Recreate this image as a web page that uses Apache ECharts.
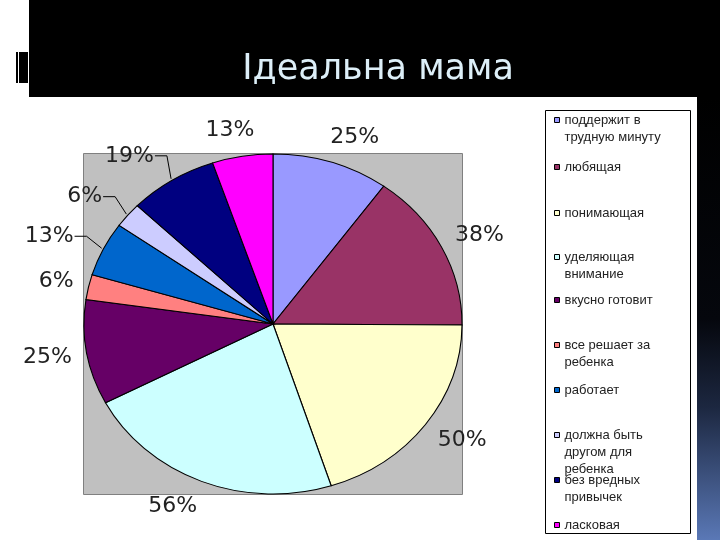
<!DOCTYPE html>
<html><head><meta charset="utf-8">
<script src="https://cdn.jsdelivr.net/npm/echarts@6/dist/echarts.min.js"></script>
<style>html,body{margin:0;padding:0;background:#fff}#c{width:720px;height:540px}</style>
</head><body><div id="c"></div><script>
// ---- data ----
const chartTitle = 'Ідеальна мама';
const categories = ['поддержит в трудную минуту','любящая','понимающая','уделяющая внимание','вкусно готовит','все решает за ребенка','работает','должна быть другом для ребенка','без вредных привычек','ласковая'];
const legendText = ['поддержит в\nтрудную минуту','любящая','понимающая','уделяющая\nвнимание','вкусно готовит','все решает за\nребенка','работает','должна быть\nдругом для\nребенка','без вредных\nпривычек','ласковая'];
const values = [25, 38, 50, 56, 25, 6, 13, 6, 19, 13];
const colors = ['#9999FF','#993366','#FFFFCC','#CCFFFF','#660066','#FF8080','#0066CC','#CCCCFF','#000080','#FF00FF'];
const withLeader = [false,false,false,false,false,false,true,true,true,false];

// ---- layout ----
const CX = 273, CY = 324, RX = 189, RY = 170;
const LABEL_FONT = '22px "DejaVu Sans"';
const total = values.reduce((a, b) => a + b, 0);
const starts = []; { let acc = 0; values.forEach(v => { starts.push(acc); acc += v; }); }
const mctx = document.createElement('canvas').getContext('2d'); mctx.font = LABEL_FONT;
const clamp1 = x => Math.max(-1, Math.min(1, x));

function renderSlice(i) {
  return function (params, api) {
    const v = api.value(0);
    const a0 = starts[i] / total * 2 * Math.PI;
    const a1 = (starts[i] + v) / total * 2 * Math.PI;
    const mid = (a0 + a1) / 2, s = Math.sin(mid), c = Math.cos(mid);
    const children = [{
      type: 'sector', x: CX, y: CY, scaleX: RX / RY,
      shape: { cx: 0, cy: 0, r: RY, r0: 0, startAngle: a0 - Math.PI / 2, endAngle: a1 - Math.PI / 2, clockwise: true },
      style: { fill: colors[i], stroke: '#000', lineWidth: 1, strokeNoScale: true }
    }];
    const txt = v + '%';
    if (withLeader[i]) {
      const ax = CX + RX * 1.17 * s, ay = CY - RY * 1.17 * c;
      const ex = CX + RX * 1.01 * s, ey = CY - RY * 1.01 * c;
      children.push({ type: 'polyline', shape: { points: [[ax, ay], [ax + 12, ay], [ex, ey]] }, style: { stroke: '#000', fill: null, lineWidth: 1 } });
      children.push({ type: 'text', x: ax - 1, y: ay, style: { text: txt, font: LABEL_FONT, fill: '#222', align: 'right', verticalAlign: 'middle' } });
    } else {
      const w = mctx.measureText(txt).width, h = 26;
      const px = CX + RX * 1.08 * s, py = CY - RY * 1.08 * c;
      children.push({ type: 'text', x: px + w / 2 * clamp1(2.5 * s), y: py - h / 2 * c, style: { text: txt, font: LABEL_FONT, fill: '#222', align: 'center', verticalAlign: 'middle' } });
    }
    return { type: 'group', children };
  };
}

const legendFirstLineY = [120, 167, 213, 257, 300, 345, 390, 435, 480, 525];
const LH = 17;
const legends = categories.map((name, i) => {
  const L = legendText[i].split('\n').length;
  // leading blank lines keep the marker level with the first text line
  const shown = ' \n'.repeat(L - 1) + legendText[i];
  return {
    data: [name], left: 554, top: legendFirstLineY[i] - LH * (2 * L - 1) / 2,
    padding: 0, itemGap: 0, icon: 'rect', itemWidth: 5, itemHeight: 5, selectedMode: false,
    itemStyle: { borderColor: '#000', borderWidth: 1 },
    formatter: () => shown,
    textStyle: { fontSize: 13, fontFamily: '"Liberation Sans", Arial', color: '#222', lineHeight: LH,
      backgroundColor: 'rgba(0,0,0,0)' }
  };
});

const chart = echarts.init(document.getElementById('c'), null, { renderer: 'canvas' });
chart.setOption({
  backgroundColor: '#ffffff',
  animation: false,
  graphic: [
    { type: 'rect', z: 0, shape: { x: 29, y: 0, width: 691, height: 97 }, style: { fill: '#000' } },
    { type: 'rect', z: 0, shape: { x: 697, y: 97, width: 23, height: 443 },
      style: { fill: new echarts.graphic.LinearGradient(0, 0, 0, 1, [
        { offset: 0, color: '#000000' }, { offset: 0.5, color: '#05070d' }, { offset: 0.7, color: '#1c2740' }, { offset: 1, color: '#5a78b6' }]) } },
    { type: 'rect', z: 0, shape: { x: 16, y: 52, width: 12, height: 31 }, style: { fill: '#000' } },
    { type: 'rect', z: 0, shape: { x: 18, y: 52, width: 1, height: 31 }, style: { fill: '#fff' } },
    { type: 'text', z: 1, x: 378, y: 70, style: { text: chartTitle, font: '35px "DejaVu Sans"', fill: '#DDEFF8', align: 'center', verticalAlign: 'middle' } },
    { type: 'rect', z: 0, shape: { x: CX - RX - 0.5, y: CY - RY - 0.5, width: 2 * RX + 1, height: 2 * RY + 1 }, style: { fill: '#C0C0C0', stroke: '#808080', lineWidth: 1 } },
    { type: 'rect', z: 0, shape: { x: 545.5, y: 110.5, width: 145, height: 423 }, style: { fill: '#fff', stroke: '#000', lineWidth: 1 } }
  ],
  legend: legends,
  series: categories.map((name, i) => ({
    type: 'custom', name, coordinateSystem: 'none', silent: true,
    itemStyle: { color: colors[i] },
    data: [values[i]],
    renderItem: renderSlice(i)
  }))
});
</script></body></html>
